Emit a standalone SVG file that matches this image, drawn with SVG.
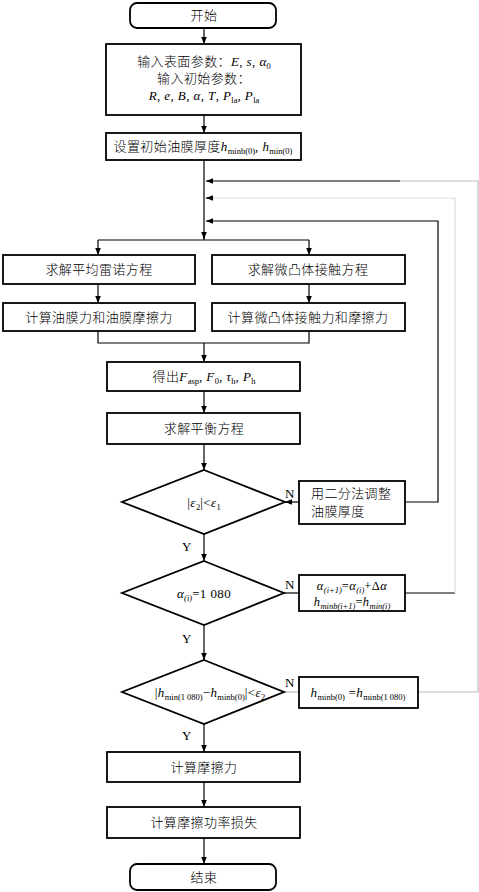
<svg xmlns="http://www.w3.org/2000/svg" width="479" height="892" viewBox="0 0 479 892">
<style>
.b{fill:#fff;stroke:#000;stroke-width:1.8}
.l{fill:none;stroke:#000;stroke-width:1.2}
.g{fill:none;stroke:#bbb;stroke-width:1.2}
.g2{fill:none;stroke:#ddd;stroke-width:1.2}
.t{font-family:"Liberation Serif","Noto Sans CJK SC",serif;font-size:13px;font-weight:300;text-anchor:middle;fill:#000;letter-spacing:0.4px}
.m{font-weight:normal}
.tl{text-anchor:start}
.i{font-style:italic;font-weight:normal}
.s{font-size:8.5px;font-style:normal;font-weight:normal;letter-spacing:0}
.si{font-size:8.5px;font-style:italic;font-weight:normal;letter-spacing:0}
</style>
<defs>
<marker id="a" viewBox="0 0 10 10" refX="10" refY="5" markerWidth="7" markerHeight="7" markerUnits="userSpaceOnUse" orient="auto"><path d="M0,1 L10,5 L0,9 Z" fill="#000"/></marker>
</defs>
<g id="connectors">
<path class="l" d="M204,28 V44" marker-end="url(#a)"/>
<path class="l" d="M204,115 V133" marker-end="url(#a)"/>
<path class="l" d="M204,160 V240" />
<path class="l" d="M204,232 V239" marker-end="url(#a)"/>
<path class="l" d="M98,240 H309"/>
<path class="l" d="M98,240 V255" marker-end="url(#a)"/>
<path class="l" d="M309,240 V255" marker-end="url(#a)"/>
<path class="l" d="M98,284 V303" marker-end="url(#a)"/>
<path class="l" d="M309,284 V303" marker-end="url(#a)"/>
<path class="l" d="M98,331 V343 H309 V331"/>
<path class="l" d="M204,343 V362" marker-end="url(#a)"/>
<path class="l" d="M204,391 V413" marker-end="url(#a)"/>
<path class="l" d="M204,444 V470" marker-end="url(#a)"/>
<path class="l" d="M204,534 V561" marker-end="url(#a)"/>
<path class="l" d="M204,625 V660" marker-end="url(#a)"/>
<path class="l" d="M204,724 V752" marker-end="url(#a)"/>
<path class="l" d="M204,782 V807" marker-end="url(#a)"/>
<path class="l" d="M204,838 V864" marker-end="url(#a)"/>
<path class="l" d="M299,502 H285" marker-end="url(#a)"/>
<path class="l" d="M405,502 H438 V221 H206" marker-end="url(#a)"/>
<path class="l" d="M284,593 H299"/>
<path class="l" d="M405,593 H455"/>
<path class="g2" d="M455,593 V198 H212"/>
<path class="l" d="M213,198 H206" marker-end="url(#a)"/>
<path class="g" d="M284,692 H299"/>
<path class="g" d="M418,692 H478 V181 H400"/>
<path class="l" d="M400,181 H206" marker-end="url(#a)"/>
</g>
<g id="start"><rect class="b" x="130" y="3" width="146" height="25" rx="7"/><text class="t" x="204" y="20">开始</text></g>
<g id="input"><rect class="b" x="106" y="44" width="195" height="71"/>
<text class="t" x="204" y="66">输入表面参数：<tspan class="i">E</tspan><tspan class="m">, </tspan><tspan class="i">s</tspan><tspan class="m">, </tspan><tspan class="i">α</tspan><tspan class="s" dy="3">0</tspan></text>
<text class="t" x="204" y="83">输入初始参数：</text>
<text class="t m" x="204" y="100"><tspan class="i">R</tspan>, <tspan class="i">e</tspan>, <tspan class="i">B</tspan>, <tspan class="i">α</tspan>, <tspan class="i">T</tspan>, <tspan class="i">P</tspan><tspan class="s" dy="3">la</tspan><tspan dy="-3">, </tspan><tspan class="i">P</tspan><tspan class="s" dy="3">la</tspan></text>
</g>
<g id="init"><rect class="b" x="106" y="133" width="195" height="27"/>
<text class="t" x="203" y="151">设置初始油膜厚度<tspan class="i">h</tspan><tspan class="s" dy="3">minb(0)</tspan><tspan class="m" dy="-3">, </tspan><tspan class="i">h</tspan><tspan class="s" dy="3">min(0)</tspan></text></g>
<g id="reynolds"><rect class="b" x="3" y="255" width="192" height="29"/><text class="t" x="99" y="274">求解平均雷诺方程</text></g>
<g id="asperity"><rect class="b" x="212" y="255" width="193" height="29"/><text class="t" x="308" y="274">求解微凸体接触方程</text></g>
<g id="oilforce"><rect class="b" x="3" y="303" width="192" height="28"/><text class="t" x="99" y="322">计算油膜力和油膜摩擦力</text></g>
<g id="aspforce"><rect class="b" x="212" y="303" width="193" height="28"/><text class="t" x="308" y="322">计算微凸体接触力和摩擦力</text></g>
<g id="result"><rect class="b" x="107" y="362" width="193" height="29"/>
<text class="t" x="204" y="381">得出<tspan class="i">F</tspan><tspan class="s" dy="3">asp</tspan><tspan class="m" dy="-3">, </tspan><tspan class="i">F</tspan><tspan class="s" dy="3">0</tspan><tspan class="m" dy="-3">, </tspan><tspan class="i">τ</tspan><tspan class="s" dy="3">h</tspan><tspan class="m" dy="-3">, </tspan><tspan class="i">P</tspan><tspan class="s" dy="3">h</tspan></text></g>
<g id="balance"><rect class="b" x="107" y="413" width="193" height="31"/><text class="t" x="204" y="433">求解平衡方程</text></g>
<g id="d1"><polygon class="b" points="204,470 285,502 204,534 122,502"/>
<text class="t m" x="204" y="507">|<tspan class="i">ε</tspan><tspan class="s" dy="3">2</tspan><tspan dy="-3">|&lt;</tspan><tspan class="i">ε</tspan><tspan class="s" dy="3">1</tspan></text></g>
<g id="bisect"><rect class="b" x="299" y="481" width="106" height="43"/>
<text class="t tl" x="311" y="498">用二分法调整</text><text class="t tl" x="311" y="516">油膜厚度</text></g>
<g id="d2"><polygon class="b" points="204,561 284,593 204,625 122,593"/>
<text class="t m" x="204" y="598"><tspan class="i">α</tspan><tspan class="si" dy="3">(i)</tspan><tspan dy="-3">=1 080</tspan></text></g>
<g id="update"><rect class="b" x="299" y="575" width="106" height="36"/>
<text class="t m" x="352" y="590" style="font-size:12.5px"><tspan class="i">α</tspan><tspan class="si" dy="3">(i+1)</tspan><tspan dy="-3">=</tspan><tspan class="i">α</tspan><tspan class="si" dy="3">(i)</tspan><tspan dy="-3">+Δ</tspan><tspan class="i">α</tspan></text>
<text class="t m" x="352" y="606" style="font-size:12.5px"><tspan class="i">h</tspan><tspan class="si" dy="3">minb(i+1)</tspan><tspan dy="-3">=</tspan><tspan class="i">h</tspan><tspan class="si" dy="3">min(i)</tspan></text></g>
<g id="d3"><polygon class="b" points="204,660 284,692 204,724 122,692"/>
<text class="t m" x="210" y="697" style="font-size:13px">|<tspan class="i">h</tspan><tspan class="s" dy="3">min(1 080)</tspan><tspan dy="-3">−</tspan><tspan class="i">h</tspan><tspan class="s" dy="3">minb(0)</tspan><tspan dy="-3">|&lt;</tspan><tspan class="i">ε</tspan><tspan class="s" dy="3">2</tspan></text></g>
<g id="reset"><rect class="b" x="299" y="677" width="119" height="31"/>
<text class="t m" x="358" y="697" style="font-size:13px"><tspan class="i">h</tspan><tspan class="s" dy="3">minb(0)</tspan><tspan dy="-3"> =</tspan><tspan class="i">h</tspan><tspan class="s" dy="3">minb(1 080)</tspan></text></g>
<g id="friction"><rect class="b" x="107" y="752" width="193" height="30"/><text class="t" x="204" y="772">计算摩擦力</text></g>
<g id="power"><rect class="b" x="107" y="807" width="193" height="31"/><text class="t" x="204" y="827">计算摩擦功率损失</text></g>
<g id="end"><rect class="b" x="130" y="864" width="146" height="26" rx="7"/><text class="t" x="204" y="882">结束</text></g>
<g id="labels">
<text class="t m" x="290" y="498">N</text>
<text class="t m" x="290" y="589">N</text>
<text class="t m" x="290" y="687">N</text>
<text class="t m" x="187" y="551">Y</text>
<text class="t m" x="187" y="643">Y</text>
<text class="t m" x="187" y="740">Y</text>
</g>
</svg>
